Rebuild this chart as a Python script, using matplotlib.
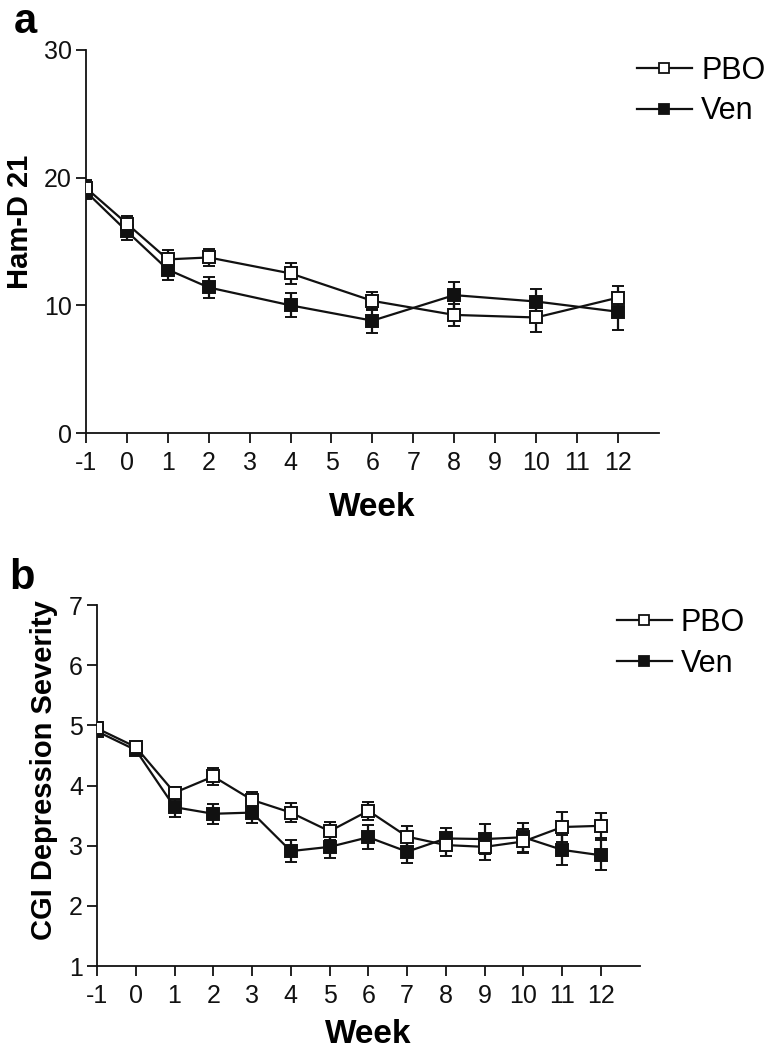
import matplotlib.pyplot as plt
from matplotlib.lines import Line2D

plt.rcParams["font.family"] = ["Liberation Sans", "DejaVu Sans"]

# panel a: Ham-D 21
weeks_a = [-1, 0, 1, 2, 4, 6, 8, 10, 12]
pbo_a = [19.2, 16.4, 13.6, 13.75, 12.5, 10.35, 9.25, 9.05, 10.6]
pbo_a_err = [0.6, 0.6, 0.7, 0.65, 0.8, 0.7, 0.85, 1.1, 0.95]
ven_a = [18.9, 15.8, 12.8, 11.4, 10.0, 8.8, 10.8, 10.3, 9.5]
ven_a_err = [0.6, 0.65, 0.8, 0.8, 0.95, 0.95, 1.05, 0.95, 1.45]

# panel b: CGI depression severity
weeks_b = [-1, 0, 1, 2, 3, 4, 5, 6, 7, 8, 9, 10, 11, 12]
pbo_b = [4.95, 4.64, 3.88, 4.15, 3.76, 3.55, 3.24, 3.58, 3.15, 3.01, 2.98, 3.07, 3.31, 3.33]
pbo_b_err = [0.1, 0.09, 0.1, 0.14, 0.14, 0.16, 0.15, 0.15, 0.18, 0.18, 0.21, 0.2, 0.25, 0.21]
ven_b = [4.90, 4.59, 3.64, 3.53, 3.55, 2.91, 2.98, 3.14, 2.90, 3.12, 3.11, 3.14, 2.93, 2.84]
ven_b_err = [0.07, 0.08, 0.17, 0.17, 0.17, 0.18, 0.18, 0.2, 0.18, 0.18, 0.25, 0.24, 0.25, 0.25]

week_ticks = list(range(-1, 13))
INK = "#111111"


def draw_panel(fig, ax, weeks, pbo, pbo_err, ven, ven_err, ylim, yticks,
               ylabel, ylabel_xy, letter, letter_x, legend_xy, xlabel_pad):
    style = dict(color=INK, lw=1.6, ms=8.5, capsize=4.5, capthick=1.6,
                 elinewidth=1.6, markeredgewidth=1.4)
    ax.errorbar(weeks, ven, yerr=ven_err, marker="s", mfc=INK,
                mec=INK, zorder=3, **style)
    ax.errorbar(weeks, pbo, yerr=pbo_err, marker="s", mfc="white",
                mec=INK, zorder=4, **style)

    ax.set_xlim(-1, 13)
    ax.set_ylim(*ylim)
    ax.set_xticks(week_ticks)
    ax.set_xticklabels([str(w) for w in week_ticks])
    ax.set_yticks(yticks)
    for side in ["top", "right"]:
        ax.spines[side].set_visible(False)
    for side in ["left", "bottom"]:
        ax.spines[side].set_linewidth(1.3)
        ax.spines[side].set_color(INK)
    ax.tick_params(direction="out", length=7, width=1.3, labelsize=18,
                   colors=INK)
    ax.tick_params(axis="x", pad=6)
    ax.tick_params(axis="y", pad=3)
    ax.set_xlabel("Week", fontsize=24, fontweight="bold", labelpad=xlabel_pad)
    ax.set_ylabel(ylabel, fontsize=21, fontweight="bold")
    ax.yaxis.set_label_coords(*ylabel_xy)

    handles = [
        Line2D([], [], color=INK, lw=1.6, marker="s", ms=7, mfc="white", mec=INK, mew=1.3),
        Line2D([], [], color=INK, lw=1.6, marker="s", ms=7, mfc=INK, mec=INK, mew=1.3),
    ]
    fig.legend(handles, ["PBO", "Ven"], loc="upper left",
               bbox_to_anchor=legend_xy, frameon=False, fontsize=22,
               handlelength=1.8, handletextpad=0.3, labelspacing=0.35,
               borderpad=0, borderaxespad=0)

    ax.text(letter_x, 1.02, letter, transform=ax.transAxes, fontsize=30,
            fontweight="bold", ha="center", va="bottom")


fig = plt.figure(figsize=(7.71, 10.5), dpi=100)

ax_a = fig.add_axes([0.1115, 0.5876, 0.743, 0.3648])
draw_panel(fig, ax_a, weeks_a, pbo_a, pbo_a_err, ven_a, ven_a_err,
           (0, 30), [0, 10, 20, 30], "Ham-D 21", (-0.09, 0.55),
           "a", -0.105, (0.826, 0.947), 12)

ax_b = fig.add_axes([0.1258, 0.08, 0.704, 0.3438])
draw_panel(fig, ax_b, weeks_b, pbo_b, pbo_b_err, ven_b, ven_b_err,
           (1, 7), [1, 2, 3, 4, 5, 6, 7], "CGI Depression Severity",
           (-0.072, 0.543), "b", -0.138, (0.800, 0.421), 8)

fig.savefig("out.png", dpi=100)
